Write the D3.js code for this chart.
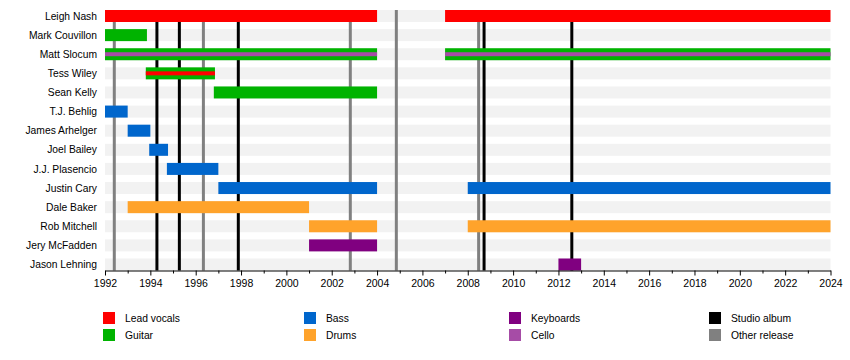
<!DOCTYPE html>
<html>
<head>
<meta charset="utf-8">
<script src="https://cdn.jsdelivr.net/npm/d3@7"></script>
<style>
  body { margin: 0; background: #fff; }
  text { font-family: "Liberation Sans", Arial, sans-serif; }
</style>
</head>
<body>
<div id="timeline"></div>
<script>
// Band member timeline

const members = ["Leigh Nash", "Mark Couvillon", "Matt Slocum", "Tess Wiley", "Sean Kelly",
    "T.J. Behlig", "James Arhelger", "Joel Bailey", "J.J. Plasencio", "Justin Cary",
    "Dale Baker", "Rob Mitchell", "Jery McFadden", "Jason Lehning"];

const roles = ["Lead vocals", "Guitar", "Bass", "Drums", "Keyboards", "Cello"];
const roleColors = ["#ff0000", "#00b300", "#0066cc", "#ffa32b", "#800080", "#a64ca6"];

// [member, role, start, end]
const bars = [
    ["Leigh Nash", "Lead vocals", 1992, 2004],
    ["Leigh Nash", "Lead vocals", 2007, 2024],
    ["Mark Couvillon", "Guitar", 1992, 1993.85],
    ["Matt Slocum", "Guitar", 1992, 2004],
    ["Matt Slocum", "Guitar", 2007, 2024],
    ["Tess Wiley", "Guitar", 1993.8, 1996.85],
    ["Sean Kelly", "Guitar", 1996.8, 2004],
    ["T.J. Behlig", "Bass", 1992, 1993],
    ["James Arhelger", "Bass", 1993, 1994],
    ["Joel Bailey", "Bass", 1993.95, 1994.78],
    ["J.J. Plasencio", "Bass", 1994.73, 1997],
    ["Justin Cary", "Bass", 1997, 2004],
    ["Justin Cary", "Bass", 2008, 2024],
    ["Dale Baker", "Drums", 1993, 2001],
    ["Rob Mitchell", "Drums", 2001, 2004],
    ["Rob Mitchell", "Drums", 2008, 2024],
    ["Jery McFadden", "Keyboards", 2001, 2004],
    ["Jason Lehning", "Keyboards", 2012, 2013]
];

// secondary roles drawn as thin stripes inside the main bar
const overlays = [
    ["Matt Slocum", "Cello", 1992, 2004],
    ["Matt Slocum", "Cello", 2007, 2024],
    ["Tess Wiley", "Lead vocals", 1993.8, 1996.85]
];

const studioAlbums = [1994.29, 1995.28, 1997.88, 2008.72, 2012.59];
const otherReleases = [1992.41, 1996.34, 2002.82, 2004.85, 2008.48];

const legendItems = ["Lead vocals", "Guitar", "Bass", "Drums", "Keyboards", "Cello", "Studio album", "Other release"];
const legendColors = ["#ff0000", "#00b300", "#0066cc", "#ffa32b", "#800080", "#a64ca6", "#000000", "#808080"];

const width = 850, height = 360;

const svg = d3.select("#timeline")
    .append("svg")
    .attr("width", width)
    .attr("height", height);

const x = d3.scaleLinear()
    .domain([1992, 2024])
    .range([105, 830.5]);

const y = d3.scalePoint()
    .domain(members)
    .range([16, 264.5]);

const color = d3.scaleOrdinal().domain(roles).range(roleColors);

const barH = 12;
const plotTop = 10, plotBottom = 270.5;

// background stripes for each row
svg.append("g")
    .selectAll("rect")
    .data(members)
    .join("rect")
    .attr("x", x(1992))
    .attr("width", x(2024) - x(1992))
    .attr("y", d => y(d) - barH / 2)
    .attr("height", barH)
    .attr("fill", "#f2f2f2");

// release lines
svg.append("g")
    .selectAll("line")
    .data(otherReleases.map(d => ({ v: d, c: "#808080" }))
        .concat(studioAlbums.map(d => ({ v: d, c: "#000000" }))))
    .join("line")
    .attr("x1", d => x(d.v))
    .attr("x2", d => x(d.v))
    .attr("y1", plotTop)
    .attr("y2", plotBottom)
    .attr("stroke", d => d.c)
    .attr("stroke-width", 3);

// member bars
svg.append("g")
    .selectAll("rect")
    .data(bars)
    .join("rect")
    .attr("x", d => x(d[2]))
    .attr("width", d => x(d[3]) - x(d[2]))
    .attr("y", d => y(d[0]) - barH / 2)
    .attr("height", barH)
    .attr("fill", d => color(d[1]));

svg.append("g")
    .selectAll("rect")
    .data(overlays)
    .join("rect")
    .attr("x", d => x(d[2]))
    .attr("width", d => x(d[3]) - x(d[2]))
    .attr("y", d => y(d[0]) - 2)
    .attr("height", 4)
    .attr("fill", d => color(d[1]));

// member names
svg.append("g")
    .selectAll("text")
    .data(members)
    .join("text")
    .attr("x", 97)
    .attr("y", d => y(d))
    .attr("dy", "0.35em")
    .attr("text-anchor", "end")
    .style("font-size", "10.3px")
    .style("fill", "#000")
    .text(d => d);

// x axis: minor ticks every year, labels every two years
svg.append("g")
    .attr("transform", `translate(0,${plotBottom})`)
    .call(d3.axisBottom(x).tickValues(d3.range(1993, 2024, 2)).tickSize(3).tickFormat(""))
    .call(g => g.select(".domain").remove());

const xAxis = svg.append("g")
    .attr("transform", `translate(0,${plotBottom})`)
    .call(d3.axisBottom(x).tickValues(d3.range(1992, 2025, 2)).tickSize(5).tickSizeOuter(0)
        .tickFormat(d3.format("d")).tickPadding(4));

xAxis.selectAll("text")
    .style("font-family", "'Liberation Sans', Arial, sans-serif")
    .style("font-size", "10.5px")
    .style("fill", "#000");
xAxis.selectAll("line, path").attr("stroke", "#000");

// legend
const legend = svg.append("g")
    .selectAll("g")
    .data(legendItems)
    .join("g")
    .attr("transform", (d, i) => `translate(${[103, 304, 509, 709][Math.floor(i / 2)]},${i % 2 ? 329 : 312})`);

legend.append("rect")
    .attr("width", 12)
    .attr("height", 12)
    .attr("fill", (d, i) => legendColors[i]);

legend.append("text")
    .attr("x", 22)
    .attr("y", 6)
    .attr("dy", "0.35em")
    .style("font-size", "10.3px")
    .text(d => d);
</script>
</body>
</html>
